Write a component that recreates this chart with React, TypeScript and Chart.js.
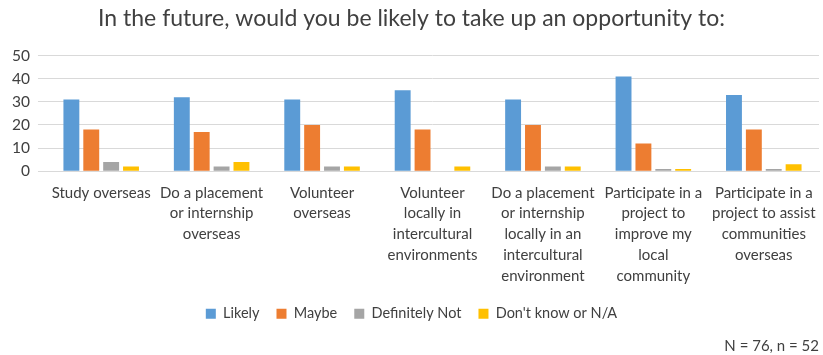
import React, { useEffect, useRef } from "react";
import { Chart, registerables } from "chart.js";

Chart.register(...registerables);

const categories: (string | string[])[] = [
  "Study overseas",
  ["Do a placement", "or internship", "overseas"],
  ["Volunteer", "overseas"],
  ["Volunteer", "locally in", "intercultural", "environments"],
  ["Do a placement", "or internship", "locally in an", "intercultural", "environment"],
  ["Participate in a", "project to", "improve my", "local", "community"],
  ["Participate in a", "project to assist", "communities", "overseas"],
];

const likely = [31, 32, 31, 35, 31, 41, 33];
const maybe = [18, 17, 20, 18, 20, 12, 18];
const definitelyNot = [4, 2, 2, 0, 2, 1, 1];
const dontKnow = [2, 4, 2, 2, 2, 1, 3];

const seriesNames = ["Likely", "Maybe", "Definitely Not", "Don't know or N/A"];
const seriesColors = ["#5B9BD5", "#ED7D31", "#A5A5A5", "#FFC000"];

const yTicks = [0, 10, 20, 30, 40, 50];

const titleText = "In the future, would you be likely to take up an opportunity to:";
const noteText = "N = 76, n = 52";

const FONT = "Lato, 'Open Sans', sans-serif";

export default function App() {
  const ref = useRef<HTMLCanvasElement | null>(null);

  useEffect(() => {
    if (!ref.current) return;
    const values = [likely, maybe, definitelyNot, dontKnow];
    const chart = new Chart(ref.current, {
      type: "bar",
      data: {
        labels: categories,
        datasets: values.map((v, i) => ({
          label: seriesNames[i],
          data: v,
          backgroundColor: seriesColors[i],
          borderWidth: 0,
          categoryPercentage: 0.72,
          barPercentage: 0.8,
        })),
      },
      options: {
        animation: false,
        responsive: true,
        maintainAspectRatio: false,
        layout: { padding: { left: 4, right: 4, top: 4, bottom: 0 } },
        plugins: {
          title: {
            display: true,
            text: titleText,
            color: "#404040",
            font: { family: FONT, size: 23, weight: "normal" },
            padding: { top: 1, bottom: 23 },
          },
          subtitle: {
            display: true,
            text: noteText,
            position: "bottom",
            align: "end",
            color: "#404040",
            font: { family: FONT, size: 15, weight: "normal" },
            padding: { top: 6, bottom: 0 },
          },
          legend: {
            position: "bottom",
            labels: {
              boxWidth: 10,
              boxHeight: 10,
              color: "#404040",
              font: { family: FONT, size: 14.5 },
              padding: 17,
            },
          },
          tooltip: { enabled: false },
        },
        scales: {
          x: {
            grid: { display: false },
            border: { display: true, color: "#d9d9d9" },
            ticks: {
              color: "#404040",
              font: { family: FONT, size: 15, lineHeight: 1.39 },
              maxRotation: 0,
              autoSkip: false,
              padding: 3,
            },
          },
          y: {
            min: 0,
            max: 50,
            afterBuildTicks: (axis: any) => {
              axis.ticks = yTicks.map((v) => ({ value: v }));
            },
            grid: { color: "#d9d9d9" },
            border: { display: false },
            ticks: {
              color: "#404040",
              font: { family: FONT, size: 15.5 },
              padding: 8,
            },
          },
        },
      },
    });
    return () => chart.destroy();
  }, []);

  return (
    <div style={{ position: "fixed", left: 0, top: 0, width: 823, height: 355, background: "#fff" }}>
      <canvas ref={ref} />
    </div>
  );
}
